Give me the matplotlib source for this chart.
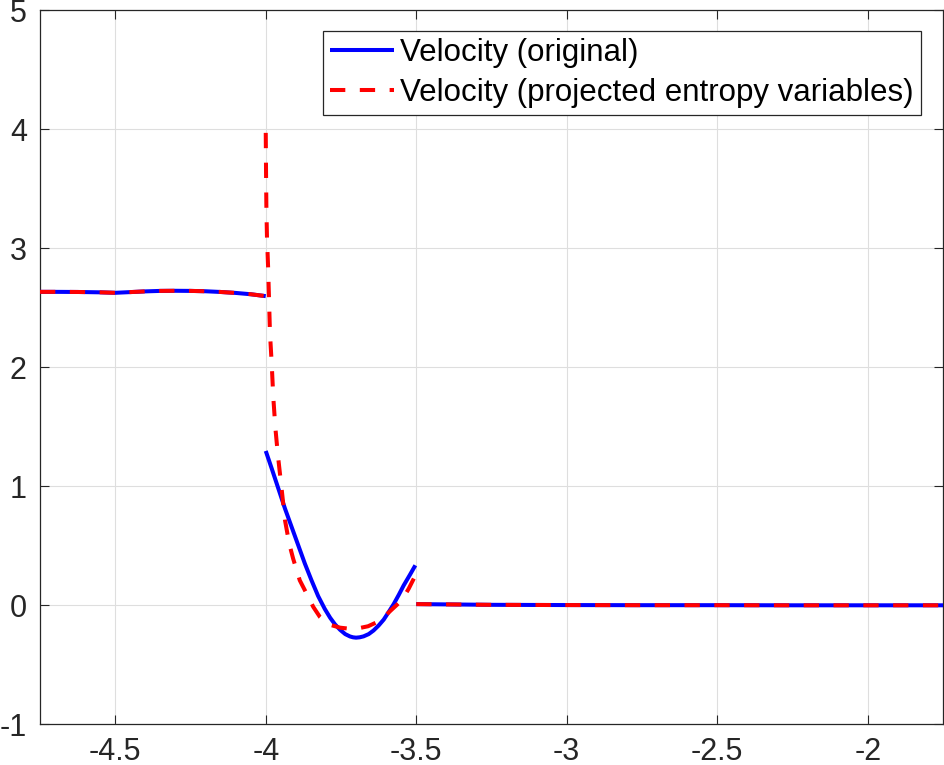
import numpy as np
import matplotlib
matplotlib.use("Agg")
import matplotlib.pyplot as plt

plt.rcParams['font.family'] = ['Liberation Sans', 'DejaVu Sans']
plt.rcParams['axes.unicode_minus'] = False

# ---- data ----
# segment 1: x in [-4.75, -4]
x_left = [-4.75, -4.70, -4.625, -4.55, -4.50, -4.45, -4.40, -4.35, -4.30, -4.25,
          -4.20, -4.15, -4.10, -4.05, -4.00]
v_left_orig = [2.634, 2.634, 2.633, 2.630, 2.626, 2.632, 2.638, 2.642, 2.643, 2.642,
               2.639, 2.633, 2.625, 2.614, 2.598]
v_left_proj = v_left_orig

# segment 2: x in [-4, -3.5]  (original velocity)
x_mid_orig = [-4.000, -3.980, -3.958, -3.936, -3.914, -3.892, -3.870, -3.848, -3.826,
              -3.804, -3.786, -3.770, -3.753, -3.736, -3.720, -3.710, -3.700, -3.688,
              -3.675, -3.658, -3.642, -3.625, -3.608, -3.592, -3.575, -3.558, -3.542,
              -3.522, -3.503]
v_mid_orig = [1.297, 1.148, 0.980, 0.812, 0.658, 0.504, 0.350, 0.210, 0.078,
              -0.030, -0.105, -0.160, -0.206, -0.242, -0.262, -0.269, -0.272, -0.269,
              -0.261, -0.242, -0.212, -0.170, -0.120, -0.058, 0.010, 0.088, 0.166,
              0.252, 0.336]

# segment 2: projected entropy variables velocity
x_mid_proj = [-4.000, -3.999, -3.998, -3.996, -3.992, -3.989, -3.986, -3.980, -3.975,
              -3.968, -3.960, -3.949, -3.936, -3.922, -3.909, -3.887, -3.870, -3.842,
              -3.820, -3.792, -3.753, -3.728, -3.703, -3.660, -3.629, -3.600, -3.572,
              -3.548, -3.525, -3.503]
v_mid_proj = [3.97, 3.63, 3.36, 3.10, 2.83, 2.56, 2.29, 2.02, 1.75,
              1.49, 1.27, 1.02, 0.714, 0.518, 0.392, 0.210, 0.126, -0.014,
              -0.098, -0.160, -0.188, -0.195, -0.199, -0.176, -0.140, -0.080, -0.014,
              0.042, 0.140, 0.250]

# segment 3: x in [-3.5, -1.75]
x_right = [-3.50, -3.25, -3.00, -2.75, -2.50, -2.25, -2.00, -1.75]
v_right_orig = [0.010, 0.004, 0.002, 0.001, 0.001, 0.000, 0.000, 0.000]
v_right_proj = v_right_orig

xticks = [-4.5, -4, -3.5, -3, -2.5, -2]
xticklabels = ['-4.5', '-4', '-3.5', '-3', '-2.5', '-2']
yticks = [-1, 0, 1, 2, 3, 4, 5]
yticklabels = ['-1', '0', '1', '2', '3', '4', '5']

label_orig = 'Velocity (original)'
label_proj = 'Velocity (projected entropy variables)'

# ---- figure ----
fig = plt.figure(figsize=(9.44, 7.65), dpi=100)
ax = fig.add_axes([40/944, 1 - 724.3/765, 903/944, (724.3 - 10.3)/765])

lw = 2.9
blue = '#0000ff'
red = '#ff0000'
dash = (3.8, 3.6)

segs_orig = [(x_left, v_left_orig), (x_mid_orig, v_mid_orig), (x_right, v_right_orig)]
segs_proj = [(x_left, v_left_proj), (x_mid_proj, v_mid_proj), (x_right, v_right_proj)]

for i, (xs, ys) in enumerate(segs_orig):
    ax.plot(xs, ys, color=blue, lw=lw, solid_capstyle='butt', solid_joinstyle='round',
            label=label_orig if i == 0 else None, zorder=3)
for i, (xs, ys) in enumerate(segs_proj):
    ax.plot(xs, ys, color=red, lw=lw, linestyle=(0, dash), dash_capstyle='butt',
            label=label_proj if i == 0 else None, zorder=4)

ax.set_xlim(-4.75, -1.75)
ax.set_ylim(-1, 5)
ax.set_xticks(xticks)
ax.set_xticklabels(xticklabels)
ax.set_yticks(yticks)
ax.set_yticklabels(yticklabels)

dark = '#262626'
ax.grid(True, color='#dedede', linewidth=0.8, zorder=0)
ax.set_axisbelow(True)
for s in ax.spines.values():
    s.set_color(dark)
    s.set_linewidth(0.9)
ax.tick_params(axis='both', direction='in', length=6.5, width=0.8, color=dark,
               labelcolor=dark, labelsize=22, top=True, right=True)
ax.tick_params(axis='x', pad=9)
ax.tick_params(axis='y', pad=9.5)

leg = ax.legend(loc='upper right', bbox_to_anchor=((921 - 40) / 903, (724.3 - 31) / 714),
                borderaxespad=0, fontsize=22.5, frameon=True, fancybox=False,
                framealpha=1, edgecolor=dark, handlelength=2.05, handletextpad=0.2,
                borderpad=0.22, labelspacing=0.32)
leg.get_frame().set_linewidth(0.9)

fig.savefig('out.png', dpi=100)
